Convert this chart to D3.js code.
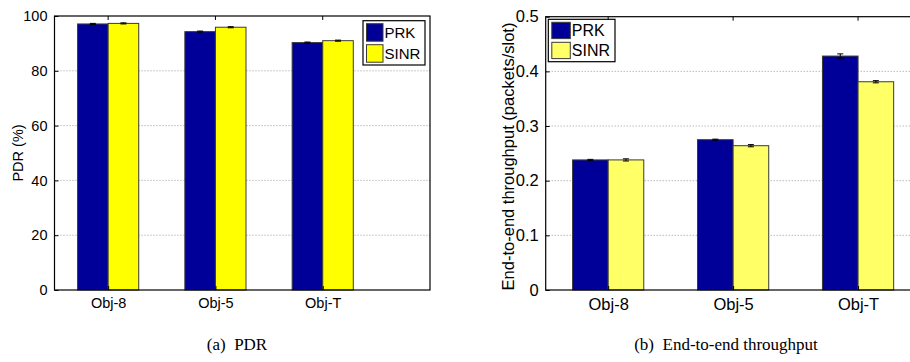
<!DOCTYPE html>
<html>
<head>
<meta charset="utf-8">
<script src="https://cdn.jsdelivr.net/npm/d3@7"></script>
<style>
  html, body { margin: 0; padding: 0; background: #fff; }
  svg { display: block; }
  text { font-family: "Liberation Sans", Arial, sans-serif; fill: #000; }
</style>
</head>
<body>
<svg id="chart" width="910" height="362"></svg>
<script>
// ---------- data ----------
const categories = ["Obj-8", "Obj-5", "Obj-T"];
const seriesNames = ["PRK", "SINR"];

const pdrPRK = [97.1, 94.3, 90.3];
const pdrSINR = [97.3, 95.9, 91.0];
const pdrPRKErr = [0.2, 0.2, 0.2];
const pdrSINRErr = [0.2, 0.2, 0.2];
const pdrTicks = [0, 20, 40, 60, 80, 100];

const thrPRK = [0.238, 0.275, 0.428];
const thrSINR = [0.238, 0.264, 0.381];
const thrPRKErr = [0.001, 0.001, 0.004];
const thrSINRErr = [0.002, 0.002, 0.002];
const thrTicks = [0, 0.1, 0.2, 0.3, 0.4, 0.5];

const captions = ["(a)\u00a0 PDR", "(b)\u00a0 End-to-end throughput"];
const yLabels = ["PDR (%)", "End-to-end throughput (packets/slot)"];

// ---------- drawing ----------
const svg = d3.select("#chart");

function panel(opt) {
  const g = svg.append("g");
  const x = d3.scaleLinear().domain([0.5, 4]).range([opt.left, opt.right]);
  const y = d3.scaleLinear().domain([0, opt.ymax]).range([opt.bottom, opt.top]);
  const bw = 0.285;
  const fs = opt.fs;

  // grid
  g.selectAll("line.grid").data(opt.ticks.slice(1, -1)).enter().append("line")
    .attr("x1", opt.left).attr("x2", opt.right)
    .attr("y1", d => y(d)).attr("y2", d => y(d))
    .attr("stroke", "#9a9a9a").attr("stroke-width", 1)
    .attr("stroke-dasharray", "1,2");

  // bars
  const series = [
    { name: seriesNames[0], vals: opt.a, err: opt.aErr, color: "#000099", off: -bw },
    { name: seriesNames[1], vals: opt.b, err: opt.bErr, color: opt.yellow, off: 0 }
  ];
  series.forEach(s => {
    categories.forEach((c, i) => {
      const x0 = x(i + 1 + s.off), x1 = x(i + 1 + s.off + bw);
      g.append("rect")
        .attr("x", x0).attr("y", y(s.vals[i]))
        .attr("width", x1 - x0).attr("height", y(0) - y(s.vals[i]))
        .attr("fill", s.color).attr("stroke", "#3a3a3a").attr("stroke-width", 1);
    });
  });
  // error bars
  series.forEach(s => {
    categories.forEach((c, i) => {
      const cx = x(i + 1 + s.off + bw / 2);
      const yt = y(s.vals[i] + s.err[i]), yb = y(s.vals[i] - s.err[i]);
      g.append("line").attr("x1", cx).attr("x2", cx).attr("y1", yt).attr("y2", yb)
        .attr("stroke", "#000").attr("stroke-width", 1);
      [yt, yb].forEach(yy => g.append("line")
        .attr("x1", cx - 3).attr("x2", cx + 3).attr("y1", yy).attr("y2", yy)
        .attr("stroke", "#000").attr("stroke-width", 1));
    });
  });

  // box
  g.append("rect").attr("x", opt.left).attr("y", opt.top)
    .attr("width", opt.right - opt.left).attr("height", opt.bottom - opt.top)
    .attr("fill", "none").attr("stroke", "#000").attr("stroke-width", 1.2);

  // y axis
  const yAxis = d3.axisLeft(y).tickValues(opt.ticks).tickSize(-4).tickPadding(7)
    .tickFormat(opt.fmt);
  const ya = g.append("g").attr("transform", `translate(${opt.left},0)`).call(yAxis);
  ya.select(".domain").remove();
  ya.selectAll("text").style("font-size", fs + "px")
    .style("font-family", "'Liberation Sans', Arial, sans-serif");
  ya.selectAll("line").attr("stroke", "#000");

  // x axis
  const xAxis = d3.axisBottom(x).tickValues(categories.map((c, i) => i + 1))
    .tickSize(-4).tickPadding(8).tickFormat((d, i) => categories[i]);
  const xa = g.append("g").attr("transform", `translate(0,${opt.bottom})`).call(xAxis);
  xa.select(".domain").remove();
  xa.selectAll("text").style("font-size", fs + "px")
    .style("font-family", "'Liberation Sans', Arial, sans-serif");
  xa.selectAll("line").attr("stroke", "#000");
  // top ticks
  g.selectAll("line.tt").data(categories).enter().append("line")
    .attr("x1", (d, i) => x(i + 1)).attr("x2", (d, i) => x(i + 1))
    .attr("y1", opt.top).attr("y2", opt.top + 4).attr("stroke", "#000");

  // y label
  g.append("text")
    .attr("transform", `translate(${opt.ylabX},${opt.ylabY}) rotate(-90)`)
    .attr("text-anchor", "middle").style("font-size", opt.ylfs + "px")
    .text(opt.ylabel);

  // legend
  const L = opt.leg;
  g.append("rect").attr("x", L.x).attr("y", L.y).attr("width", L.w).attr("height", L.h)
    .attr("fill", "#fff").attr("stroke", "#000").attr("stroke-width", 1.2);
  series.forEach((s, k) => {
    const ry = L.y + 3 + k * L.row;
    g.append("rect").attr("x", L.x + 3.5).attr("y", ry)
      .attr("width", L.sw).attr("height", L.sh)
      .attr("fill", s.color).attr("stroke", "#3a3a3a").attr("stroke-width", 1);
    g.append("text").attr("x", L.x + 5 + L.sw).attr("y", ry + L.sh / 2)
      .attr("dy", "0.36em").style("font-size", L.fs + "px").text(s.name);
  });

  // caption
  svg.append("text").attr("x", opt.capX).attr("y", 350)
    .attr("text-anchor", "middle").style("font-size", "17px")
    .style("font-family", "'Liberation Serif', 'Times New Roman', serif")
    .text(opt.caption);
}

panel({
  left: 54.5, right: 430, top: 16, bottom: 290, ymax: 100,
  a: pdrPRK, b: pdrSINR, aErr: pdrPRKErr, bErr: pdrSINRErr,
  ticks: pdrTicks, fmt: d3.format("d"), yellow: "#ffff00", fs: 14.5,
  ylabel: yLabels[0], ylabX: 23, ylabY: 153, ylfs: 14.5,
  leg: { x: 363, y: 20.7, w: 62, h: 44.3, sw: 16.5, sh: 17.5, row: 21, fs: 15 },
  caption: captions[0], capX: 237
});

panel({
  left: 545.7, right: 983, top: 16.7, bottom: 290, ymax: 0.5,
  a: thrPRK, b: thrSINR, aErr: thrPRKErr, bErr: thrSINRErr,
  ticks: thrTicks, fmt: d => d === 0 ? "0" : d3.format(".1f")(d), yellow: "#ffff66", fs: 16.5,
  ylabel: yLabels[1], ylabX: 514, ylabY: 156.5, ylfs: 16.5,
  leg: { x: 548.3, y: 19.3, w: 66.7, h: 42.4, sw: 18.5, sh: 16.3, row: 20, fs: 16 },
  caption: captions[1], capX: 726
});
</script>
</body>
</html>
